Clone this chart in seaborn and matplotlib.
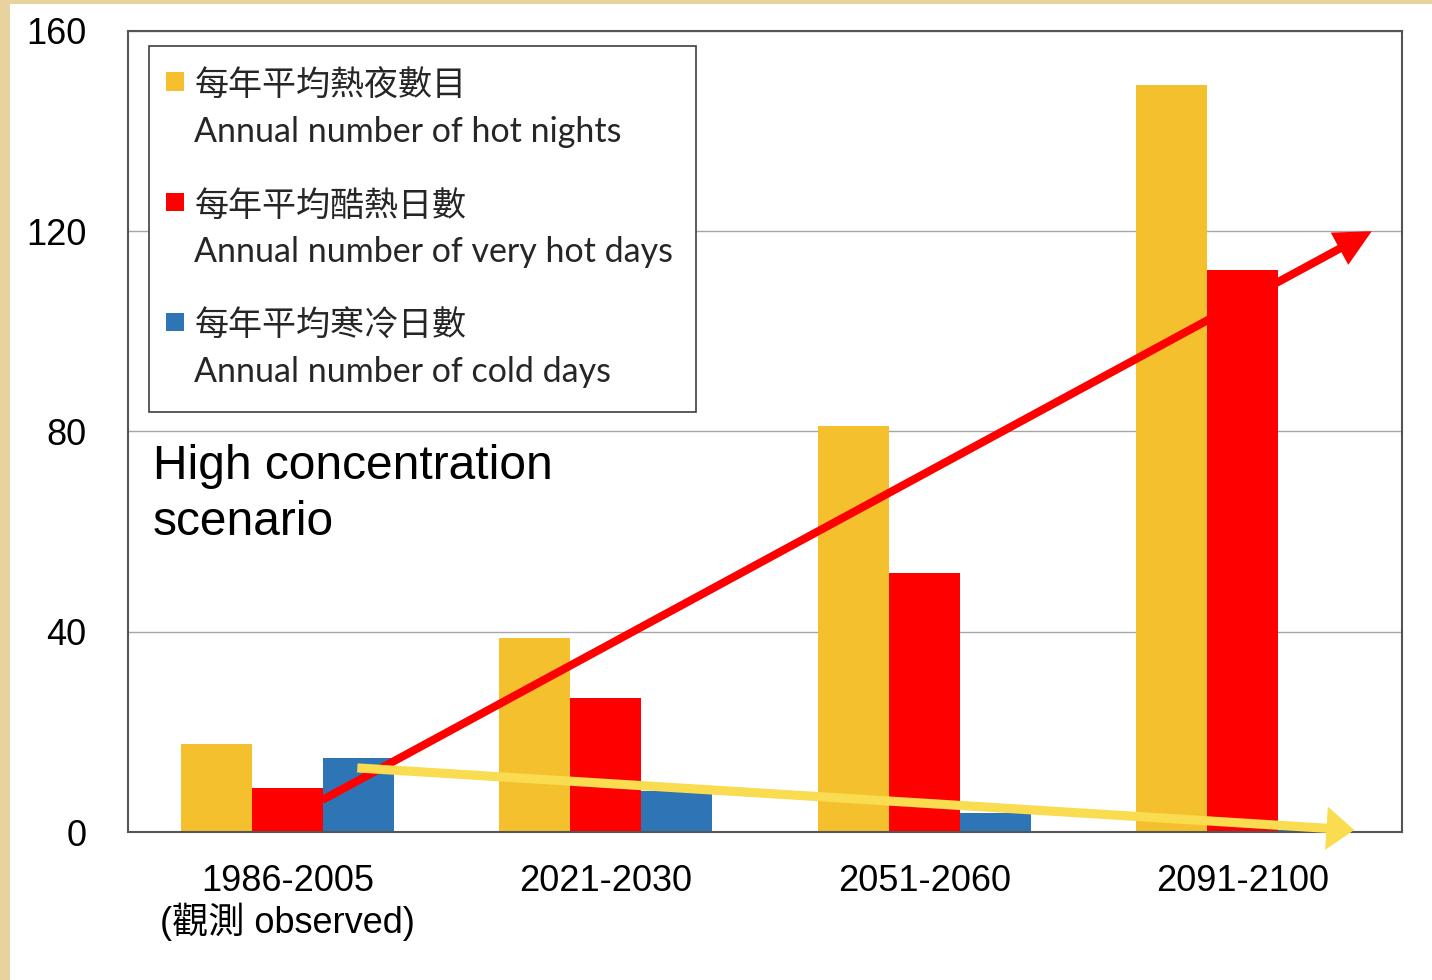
import numpy as np
import pandas as pd
import matplotlib
matplotlib.use("Agg")
import matplotlib.pyplot as plt
import seaborn as sns
from matplotlib.patches import Rectangle, Patch
from matplotlib.legend_handler import HandlerBase
from matplotlib.font_manager import FontProperties

# ---- data -------------------------------------------------------------
periods = ["1986-2005\n(觀測 observed)", "2021-2030", "2051-2060", "2091-2100"]
hot_nights = [17.6, 38.8, 81.0, 149.2]
very_hot_days = [8.8, 26.8, 51.8, 112.2]
cold_days = [14.8, 8.2, 3.8, 0.4]

series_zh = ["每年平均熱夜數目", "每年平均酷熱日數", "每年平均寒冷日數"]
series_en = ["Annual number of hot nights",
             "Annual number of very hot days",
             "Annual number of cold days"]
y_ticks = [0, 40, 80, 120, 160]
scenario_label = "High concentration\nscenario"

# trend arrows: (category position, days) for tail and head
warm_trend = [(0.11, 6.4), (3.405, 120.0)]
cold_trend = [(0.22, 12.8), (3.35, 0.4)]

# ---- style ------------------------------------------------------------
bar_colors = ["#F4C02D", "#FF0000", "#2E75B6"]
warm_arrow_color = "#FF0000"
cold_arrow_color = "#F9DC4F"
paper = "#E8D29E"

sns.set_theme(style="white")
plt.rcParams["font.family"] = ["Liberation Sans", "Noto Sans CJK TC"]

records = []
for name, vals in zip(series_zh, [hot_nights, very_hot_days, cold_days]):
    for p, v in zip(periods, vals):
        records.append({"period": p, "series": name, "value": v})
df = pd.DataFrame(records)

W, H = 1432, 980
fig = plt.figure(figsize=(W / 100, H / 100), dpi=100, facecolor=paper)
fig.patches.append(Rectangle((10 / W, 0), 1, 1 - 4 / H, transform=fig.transFigure,
                             facecolor="white", edgecolor="none", zorder=-10))
ax = fig.add_axes([128 / W, 1 - 832 / H, (1402 - 128) / W, (832 - 31) / H])
ax.set_facecolor("white")

sns.barplot(data=df, x="period", y="value", hue="series", order=periods,
            hue_order=series_zh, palette=bar_colors, width=0.668, gap=0,
            saturation=1, linewidth=0, errorbar=None, legend=False, ax=ax)

ax.set_xlim(-0.5, len(periods) - 0.5)
ax.set_ylim(y_ticks[0], y_ticks[-1])
ax.set_yticks(y_ticks)
ax.set_xlabel("")
ax.set_ylabel("")
ax.set_axisbelow(True)
ax.yaxis.grid(True, color="#A6A6A6", linewidth=1.0)
ax.xaxis.grid(False)
for s in ax.spines.values():
    s.set_visible(True)
    s.set_color("#555555")
    s.set_linewidth(1.5)
ax.tick_params(axis="y", length=0, pad=30, labelsize=26, labelcolor="black")
ax.tick_params(axis="x", length=0, pad=23, labelsize=26, labelcolor="black")
for t in ax.get_xticklabels():
    t.set_linespacing(1.12)

# trend arrows
for (tail, head), col, tw, hw, hl in [
        (warm_trend, warm_arrow_color, 0.145, 0.66, 0.66),
        (cold_trend, cold_arrow_color, 0.165, 0.78, 0.5)]:
    ax.annotate("", xy=head, xytext=tail, xycoords="data", textcoords="data",
                arrowprops=dict(arrowstyle=f"simple,tail_width={tw},head_width={hw},head_length={hl}",
                                mutation_scale=40, facecolor=col, edgecolor="none",
                                lw=0, shrinkA=0, shrinkB=0),
                zorder=4)

ax.text(0.0196, 0.485, scenario_label, transform=ax.transAxes, ha="left", va="top",
        fontsize=34.5, linespacing=1.33, color="black")


# legend: square swatch aligned with the first (Chinese) line of each entry
class FirstLineSquare(HandlerBase):
    def __init__(self, side, lift, shift):
        super().__init__()
        self.side = side
        self.lift = lift
        self.shift = shift

    def create_artists(self, legend, orig_handle, xdescent, ydescent,
                       width, height, fontsize, trans):
        y0 = -ydescent + height / 2 + self.lift - self.side / 2
        sq = Rectangle((-xdescent - self.shift, y0), self.side, self.side,
                       facecolor=orig_handle.get_facecolor(), edgecolor="none",
                       transform=trans)
        return [sq]


handles = [Patch(facecolor=c) for c in bar_colors]
labels = [f"{zh}\n{en}" for zh, en in zip(series_zh, series_en)]
leg = ax.legend(handles, labels, loc="upper left", bbox_to_anchor=(0.0165, 0.981),
                borderaxespad=0, frameon=True, fancybox=False, framealpha=1,
                edgecolor="#404040", facecolor="white",
                prop=FontProperties(family=["Lato", "Noto Sans CJK TC"], size=24.5),
                handlelength=0.36, handletextpad=0.29, labelspacing=1.24,
                borderpad=0.68,
                handler_map={Patch: FirstLineSquare(13, 20.2, 4.3)})
for t in leg.get_texts():
    t.set_linespacing(1.545)
leg.get_frame().set_linewidth(1.2)

fig.savefig("out.png", dpi=100, facecolor=fig.get_facecolor())
